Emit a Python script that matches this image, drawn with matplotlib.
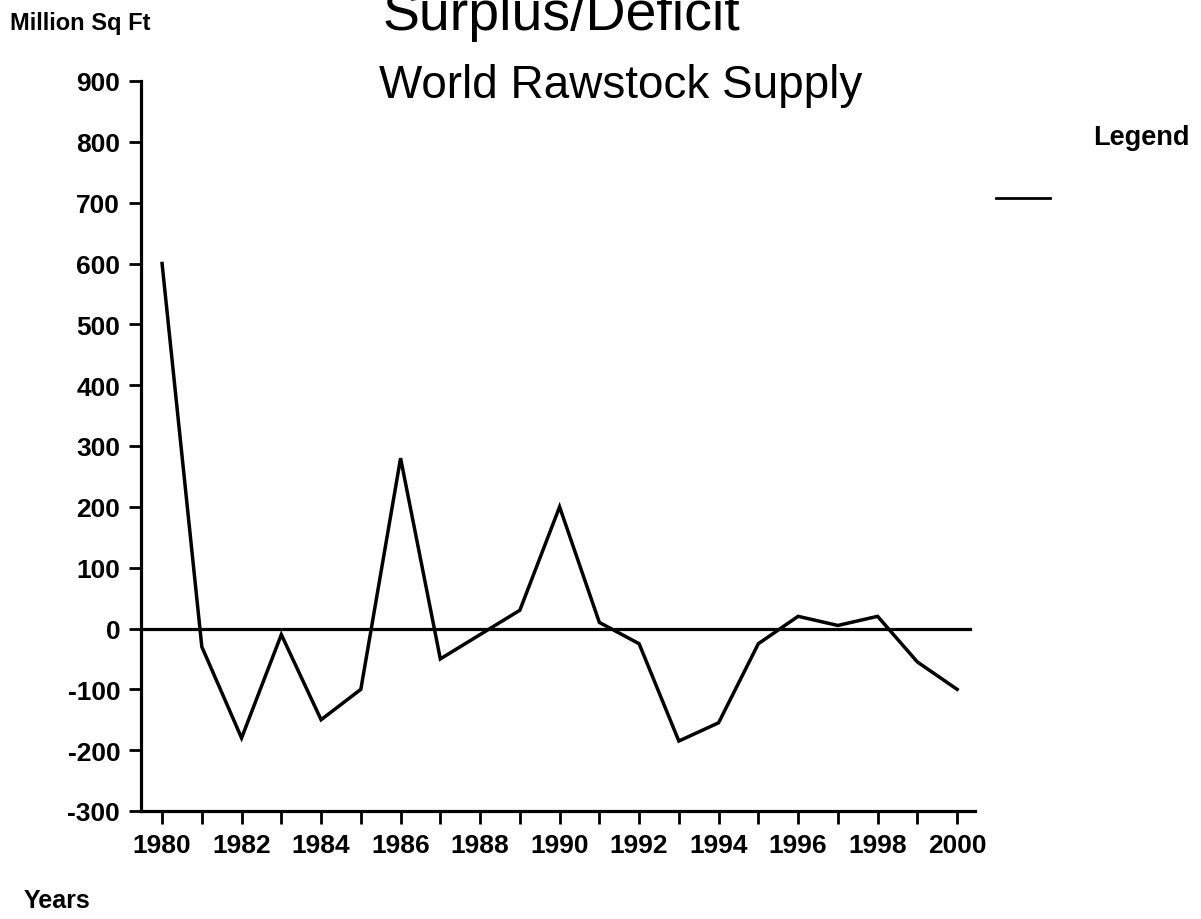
import matplotlib
matplotlib.use("Agg")
import matplotlib.pyplot as plt
from matplotlib.lines import Line2D

# World rawstock supply surplus / deficit, million sq ft
years = list(range(1980, 2001))
surplus = [600, -30, -180, -10, -150, -100, 280, -50, -10, 30,
           200, 10, -25, -185, -155, -25, 20, 5, 20, -55, -100]

y_ticks = list(range(-300, 1000, 100))
x_labelled = list(range(1980, 2001, 2))

TICK_FONT = ["Liberation Sans", "DejaVu Sans"]
TEXT_FONT = ["Liberation Sans", "DejaVu Sans"]

W, H = 1201, 920
fig = plt.figure(figsize=(W / 100, H / 100), dpi=100)
fig.patch.set_facecolor("white")

ax = fig.add_axes([141 / W, 108 / H, 834 / W, 730 / H])
ax.plot(years, surplus, color="black", lw=2.5, solid_joinstyle="miter")
ax.axhline(0, xmin=0, xmax=0.994, color="black", lw=2.3)

ax.set_xlim(1979.47, 2000.45)
ax.set_ylim(-300, 900)

for side in ("top", "right"):
    ax.spines[side].set_visible(False)
for side in ("left", "bottom"):
    ax.spines[side].set_linewidth(2.3)

ax.set_yticks(y_ticks)
ax.set_yticklabels([str(v) for v in y_ticks])
ax.set_xticks(years)
ax.set_xticklabels([str(y) if y in x_labelled else "" for y in years])
ax.tick_params(axis="both", direction="out", length=9, width=2, labelsize=19)
ax.tick_params(axis="y", pad=6)
ax.tick_params(axis="x", pad=7)
for lbl in ax.get_xticklabels() + ax.get_yticklabels():
    lbl.set_fontfamily(TICK_FONT)
    lbl.set_fontweight("bold")

fig.text(561 / W, 1 - 30 / H, "Surplus/Deficit", ha="center", va="baseline",
         fontsize=40, family=TEXT_FONT)
fig.text(621 / W, 1 - 98 / H, "World Rawstock Supply", ha="center", va="baseline",
         fontsize=33, family=TEXT_FONT)
fig.text(10 / W, 1 - 30 / H, "Million Sq Ft", ha="left", va="baseline",
         fontsize=17, fontweight="bold", family=TEXT_FONT)
fig.text(24 / W, 1 - 908 / H, "Years", ha="left", va="baseline",
         fontsize=18, fontweight="bold", family=TEXT_FONT)
fig.text(1093 / W, 1 - 145 / H, "Legend", ha="left", va="baseline",
         fontsize=19.5, fontweight="bold", family=TEXT_FONT)

series_handle = Line2D([], [], color="black", lw=2)
ax.legend(handles=[series_handle], labels=[""], loc="center left",
          bbox_to_anchor=(996 / W, 1 - 200 / H), bbox_transform=fig.transFigure,
          frameon=False, handlelength=3.9, borderpad=0, borderaxespad=0,
          handletextpad=0)

fig.savefig("out.png", dpi=100)
